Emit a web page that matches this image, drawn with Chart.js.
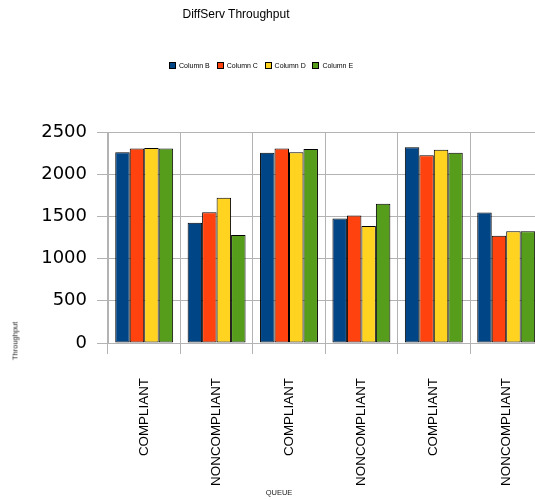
<!DOCTYPE html>
<html>
<head>
<meta charset="utf-8">
<title>DiffServ Throughput</title>
<script src="https://cdn.jsdelivr.net/npm/chart.js@4/dist/chart.umd.min.js"></script>
<style>
  html, body { margin: 0; padding: 0; background: #ffffff; overflow: hidden; }
  #wrap { position: relative; width: 535px; height: 500px; overflow: hidden; }
  #chart { position: absolute; left: 0; top: 0; }
  .txt { position: absolute; font-family: "Liberation Sans", Arial, sans-serif; color: #000; white-space: nowrap; }
  #title { left: 236px; top: 14px; font-size: 12px; transform: translate(-50%, -50%); }
  #ytitle { left: 15px; top: 341px; font-size: 7.5px; color: #222; transform: translate(-50%, -50%) rotate(-90deg); }
  #xtitle { left: 279px; top: 492px; font-size: 7.5px; color: #222; transform: translate(-50%, -50%); }
  #legend { position: absolute; left: 169px; top: 61px; height: 8px; display: flex; }
  .item { display: flex; align-items: center; width: 47.8px; font-family: "Liberation Sans", Arial, sans-serif; font-size: 7px; color: #000; }
  .box { width: 5px; height: 5px; border: 0.6px solid #000; margin-right: 3px; }
</style>
</head>
<body>
<div id="wrap">
  <canvas id="chart" width="560" height="500"></canvas>
  <div id="title" class="txt">DiffServ Throughput</div>
  <div id="legend"></div>
  <div id="ytitle" class="txt">Throughput</div>
  <div id="xtitle" class="txt">QUEUE</div>
</div>
<script>
// Queue categories along the x axis
const categories = ["COMPLIANT", "NONCOMPLIANT", "COMPLIANT", "NONCOMPLIANT", "COMPLIANT", "NONCOMPLIANT"];

// Throughput per series
const columnB = [2260, 1425, 2255, 1475, 2320, 1545];
const columnC = [2305, 1550, 2305, 1510, 2225, 1270];
const columnD = [2310, 1720, 2260, 1385, 2290, 1325];
const columnE = [2305, 1280, 2300, 1650, 2255, 1325];

const seriesNames = ["Column B", "Column C", "Column D", "Column E"];
const seriesValues = [columnB, columnC, columnD, columnE];
const seriesColors = ["#004586", "#ff420e", "#ffd320", "#579d1c"];

// Y axis ticks
const yTicks = [0, 500, 1000, 1500, 2000, 2500];

const gridColor = "#b3b3b3";

// Legend built from the series names and colours
const legend = document.getElementById("legend");
seriesNames.forEach((name, i) => {
  const item = document.createElement("div");
  item.className = "item";
  const box = document.createElement("span");
  box.className = "box";
  box.style.background = seriesColors[i];
  const label = document.createElement("span");
  label.textContent = name;
  item.appendChild(box);
  item.appendChild(label);
  legend.appendChild(item);
});

new Chart(document.getElementById("chart"), {
  type: "bar",
  data: {
    labels: categories,
    datasets: seriesNames.map((name, i) => ({
      label: name,
      data: seriesValues[i],
      backgroundColor: seriesColors[i],
      borderColor: "#000000",
      borderWidth: 1,
      borderSkipped: false,
      categoryPercentage: 0.8,
      barPercentage: 1.0
    }))
  },
  options: {
    responsive: false,
    animation: false,
    layout: { padding: { top: 132, right: 17.6, left: 0, bottom: 0 } },
    plugins: {
      legend: { display: false },
      title: { display: false },
      tooltip: { enabled: false }
    },
    scales: {
      x: {
        grid: { color: gridColor, lineWidth: 1, tickLength: 11, offset: true },
        border: { color: gridColor },
        ticks: {
          minRotation: 90,
          maxRotation: 90,
          autoSkip: false,
          padding: 24,
          color: "#000",
          font: { family: "'Liberation Sans', Arial, sans-serif", size: 13.4 }
        },
        afterFit: (scale) => { scale.height = 157; }
      },
      y: {
        min: yTicks[0],
        max: yTicks[yTicks.length - 1],
        afterBuildTicks: (scale) => { scale.ticks = yTicks.map(v => ({ value: v })); },
        grid: { color: gridColor, lineWidth: 1, tickLength: 11 },
        border: { color: gridColor },
        ticks: {
          padding: 10,
          color: "#000",
          font: { family: "'DejaVu Sans', Verdana, sans-serif", size: 18 },
          callback: (value) => String(value)
        },
        afterFit: (scale) => { scale.width = 108; }
      }
    }
  }
});
</script>
</body>
</html>
